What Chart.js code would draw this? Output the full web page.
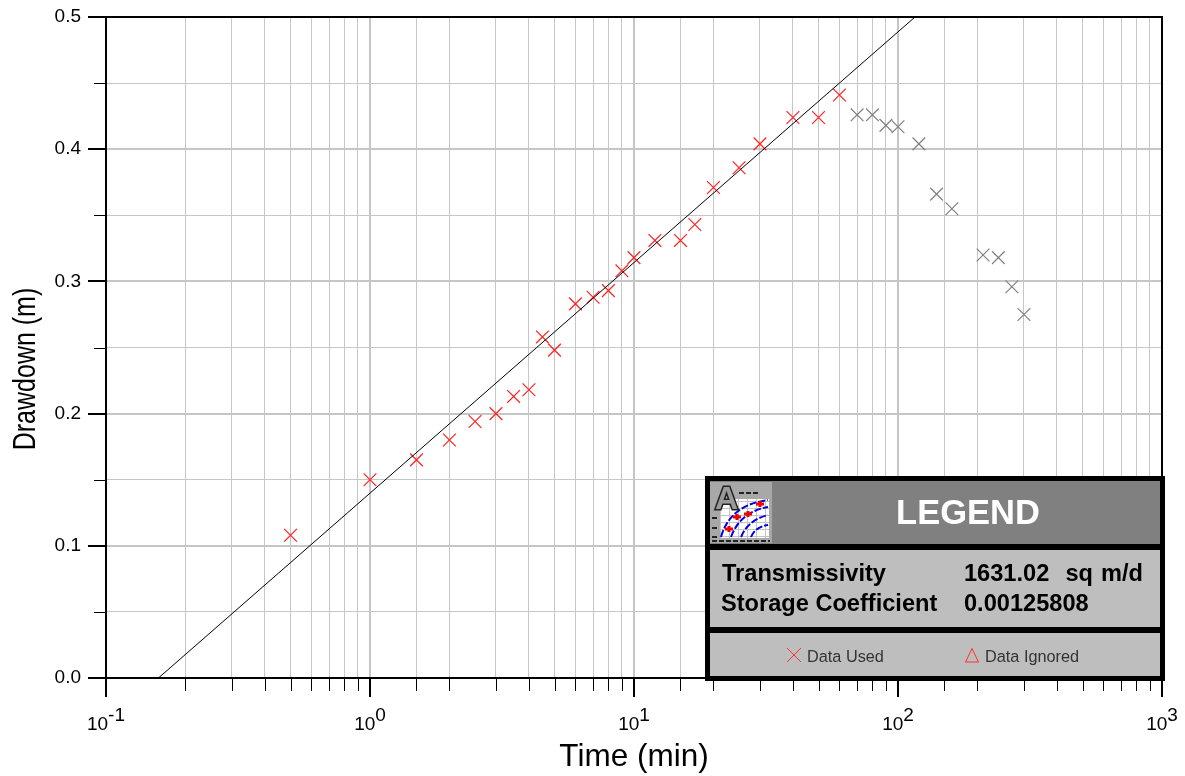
<!DOCTYPE html>
<html>
<head>
<meta charset="utf-8">
<title>Drawdown vs Time</title>
<script src="https://cdn.jsdelivr.net/npm/chart.js@4/dist/chart.umd.min.js"></script>
<style>
html, body { margin: 0; padding: 0; background: #fff; }
canvas { display: block; }
</style>
</head>
<body>
<canvas id="drawdown-chart" width="1185" height="776"></canvas>
<script>
// data
var usedTimes = [0.5, 1, 1.5, 2, 2.5, 3, 3.5, 4, 4.5, 5, 6, 7, 8, 9, 10, 12, 15, 17, 20, 25, 30, 40, 50, 60];
var usedDrawdown = [0.108, 0.150, 0.165, 0.180, 0.194, 0.200, 0.213, 0.218, 0.258, 0.248, 0.283, 0.288, 0.293, 0.308, 0.318, 0.331, 0.331, 0.343, 0.371, 0.386, 0.404, 0.424, 0.424, 0.441];
var lateTimes = [70, 80, 90, 100, 120, 140, 160, 210, 240, 270, 300];
var lateDrawdown = [0.426, 0.426, 0.418, 0.417, 0.404, 0.366, 0.355, 0.320, 0.318, 0.296, 0.275];
var fitTimes = [0.158, 116];
var fitDrawdown = [0, 0.5];
var xDecades = [0.1, 1, 10, 100, 1000];
var xExponents = ["-1", "0", "1", "2", "3"];

function toPoints(xs, ys) {
    return xs.map(function (x, i) { return { x: x, y: ys[i] }; });
}

function isDecade(v) {
    var l = Math.log10(v);
    return Math.abs(l - Math.round(l)) < 1e-6;
}

function isTenth(v) {
    return Math.abs(v * 10 - Math.round(v * 10)) < 1e-6;
}

// ticks, axis frame, exponent labels and the stretched y title
var axisFrame = {
    id: "axisFrame",
    afterDatasetsDraw: function (chart) {
        var c = chart.ctx, a = chart.chartArea;
        var sx = chart.scales.x, sy = chart.scales.y;
        c.save();
        c.strokeStyle = "#000";
        sx.ticks.forEach(function (t) {
            var px = Math.round(sx.getPixelForValue(t.value));
            var big = isDecade(t.value);
            c.lineWidth = big ? 2 : 1;
            c.beginPath();
            c.moveTo(px + (big ? 0 : 0.5), a.bottom);
            c.lineTo(px + (big ? 0 : 0.5), a.bottom + (big ? 19 : 13));
            c.stroke();
        });
        sy.ticks.forEach(function (t) {
            var py = Math.round(sy.getPixelForValue(t.value));
            var big = isTenth(t.value);
            c.lineWidth = big ? 2 : 1;
            c.beginPath();
            c.moveTo(a.left - (big ? 18 : 12), py + (big ? 0 : 0.5));
            c.lineTo(a.left, py + (big ? 0 : 0.5));
            c.stroke();
        });
        c.lineWidth = 2;
        c.strokeRect(a.left, a.top, a.right - a.left, a.bottom - a.top);

        c.fillStyle = "#000";
        c.textBaseline = "alphabetic";
        xDecades.forEach(function (v, i) {
            var px = sx.getPixelForValue(v);
            var exp = xExponents[i];
            c.font = "19px 'Liberation Sans'";
            var w1 = c.measureText("10").width;
            var w2 = c.measureText(exp).width;
            var left = px - (w1 + w2) / 2;
            c.textAlign = "left";
            c.fillText("10", left, 730);
            c.fillText(exp, left + w1, 721);
        });

        c.save();
        c.translate(35, 369);
        c.rotate(-Math.PI / 2);
        c.scale(1, 1.25);
        c.textAlign = "center";
        c.font = "25px 'Liberation Sans'";
        c.fillText("Drawdown (m)", 0, 0);
        c.restore();
        c.restore();
    }
};

function drawLegendIcon(c) {
    var i, x, y;
    c.save();
    c.fillStyle = "#a8a8a8";
    c.fillRect(710, 482, 62, 61);
    c.fillStyle = "#fff";
    c.fillRect(720, 499, 49, 39);
    c.strokeStyle = "#c4c4c4";
    c.lineWidth = 1;
    for (i = 0; i < 6; i++) {
        x = 720 + i * 9 + 0.5;
        c.beginPath(); c.moveTo(x, 499); c.lineTo(x, 538); c.stroke();
        y = 501 + i * 7 + 0.5;
        c.beginPath(); c.moveTo(720, y); c.lineTo(769, y); c.stroke();
    }
    c.strokeStyle = "#0000e0";
    c.lineWidth = 2;
    c.setLineDash([7, 2]);
    [[721, 537, 730, 505, 768, 500], [731, 537, 740, 512, 768, 507], [741, 537, 748, 520, 768, 515], [751, 537, 755, 527, 768, 525]].forEach(function (q) {
        c.beginPath();
        c.moveTo(q[0], q[1]);
        c.quadraticCurveTo(q[2], q[3], q[4], q[5]);
        c.stroke();
    });
    c.setLineDash([]);
    c.strokeStyle = "#ee0000";
    c.lineWidth = 3;
    [[729, 529], [737, 517], [748, 514], [760, 504]].forEach(function (p) {
        c.beginPath();
        c.moveTo(p[0] - 4, p[1]); c.lineTo(p[0] + 4, p[1]);
        c.moveTo(p[0], p[1] - 3); c.lineTo(p[0], p[1] + 3);
        c.stroke();
    });
    c.strokeStyle = "#222";
    c.lineWidth = 3;
    c.font = "bold 32px 'Liberation Sans'";
    c.textAlign = "left";
    c.strokeText("A", 715, 509);
    c.fillStyle = "#9a9a9a";
    c.fillText("A", 715, 509);
    c.lineWidth = 2;
    c.setLineDash([5, 2]);
    c.beginPath();
    c.moveTo(739, 493); c.lineTo(758, 493);
    c.moveTo(712, 541); c.lineTo(770, 541);
    c.stroke();
    c.setLineDash([]);
    c.beginPath();
    c.moveTo(712, 518); c.lineTo(717, 518);
    c.moveTo(712, 528); c.lineTo(717, 528);
    c.moveTo(712, 537); c.lineTo(717, 537);
    c.stroke();
    c.restore();
}

// the boxed legend in the lower right corner
var legendBox = {
    id: "legendBox",
    afterDraw: function (chart) {
        var c = chart.ctx;
        c.save();
        c.fillStyle = "#000";
        c.fillRect(705, 476, 460, 205);
        c.fillStyle = "#808080";
        c.fillRect(710, 481, 450, 63);
        c.fillStyle = "#bebebe";
        c.fillRect(710, 550, 450, 77);
        c.fillRect(710, 633, 450, 43);
        drawLegendIcon(c);

        c.textBaseline = "alphabetic";
        c.textAlign = "center";
        c.fillStyle = "#fff";
        c.font = "bold 34.5px 'Liberation Sans'";
        c.fillText("LEGEND", 968, 524);

        c.textAlign = "left";
        c.fillStyle = "#000";
        c.font = "bold 23.6px 'Liberation Sans'";
        c.fillText("Transmissivity", 722, 581);
        c.wordSpacing = "1.5px";
        c.fillText("1631.02  sq m/d", 964, 581);
        c.wordSpacing = "0px";
        c.fillText("Storage Coefficient", 721, 611);
        c.fillText("0.00125808", 964, 611);

        c.fillStyle = "#333";
        c.font = "16.3px 'Liberation Sans'";
        c.fillText("Data Used", 807, 662);
        c.fillText("Data Ignored", 985, 662);

        c.strokeStyle = "#ff3030";
        c.lineWidth = 1;
        c.beginPath();
        c.moveTo(787, 648); c.lineTo(801, 662);
        c.moveTo(801, 648); c.lineTo(787, 662);
        c.moveTo(972, 648.5); c.lineTo(978.5, 662); c.lineTo(965.5, 662); c.closePath();
        c.stroke();
        c.restore();
    }
};

var chartData = {
    datasets: [{
        label: "Fit",
        data: toPoints(fitTimes, fitDrawdown),
        showLine: true,
        borderColor: "#000",
        borderWidth: 1,
        pointRadius: 0,
        tension: 0
    }, {
        label: "Data Used",
        data: toPoints(usedTimes, usedDrawdown),
        pointStyle: "crossRot",
        pointRadius: 9,
        pointBorderWidth: 1.2,
        pointBorderColor: "#ff2020",
        showLine: false
    }, {
        label: "Late Data",
        data: toPoints(lateTimes, lateDrawdown),
        pointStyle: "crossRot",
        pointRadius: 9,
        pointBorderWidth: 1.2,
        pointBorderColor: "#808080",
        showLine: false
    }]
};

var chartOptions = {
    responsive: false,
    animation: false,
    events: [],
    layout: { padding: { left: 0, right: 23, top: 17, bottom: 0 } },
    plugins: {
        legend: { display: false },
        tooltip: { enabled: false }
    },
    scales: {
        x: {
            type: "logarithmic",
            min: 0.1,
            max: 1000,
            afterFit: function (scale) {
                scale.height = 98;
                scale.paddingLeft = 0;
                scale.paddingRight = 0;
            },
            border: { display: false },
            grid: {
                drawTicks: false,
                color: "#c6c6c6",
                lineWidth: function (ctx) { return ctx.tick && isDecade(ctx.tick.value) ? 2 : 1; }
            },
            ticks: {
                autoSkip: false,
                maxRotation: 0,
                color: "rgba(0,0,0,0)",
                font: { size: 1 },
                callback: function () { return ""; }
            },
            title: {
                display: true,
                text: "Time (min)",
                color: "#000",
                font: { family: "'Liberation Sans'", size: 31.5 },
                padding: { top: 0, bottom: 0 }
            }
        },
        y: {
            type: "linear",
            min: 0,
            max: 0.5,
            afterFit: function (scale) {
                scale.width = 106;
                scale.paddingTop = 0;
                scale.paddingBottom = 0;
            },
            border: { display: false },
            grid: {
                drawTicks: false,
                color: "#c6c6c6",
                lineWidth: function (ctx) { return ctx.tick && isTenth(ctx.tick.value) ? 2 : 1; }
            },
            ticks: {
                stepSize: 0.05,
                padding: 25,
                color: "#000",
                font: { family: "'Liberation Sans'", size: 19 },
                callback: function (v) { return isTenth(v) ? v.toFixed(1) : ""; }
            }
        }
    }
};

var config = {
    type: "scatter",
    data: chartData,
    options: chartOptions,
    plugins: [axisFrame, legendBox]
};

var drawdownChart = new Chart(document.getElementById("drawdown-chart"), config);
</script>
</body>
</html>
